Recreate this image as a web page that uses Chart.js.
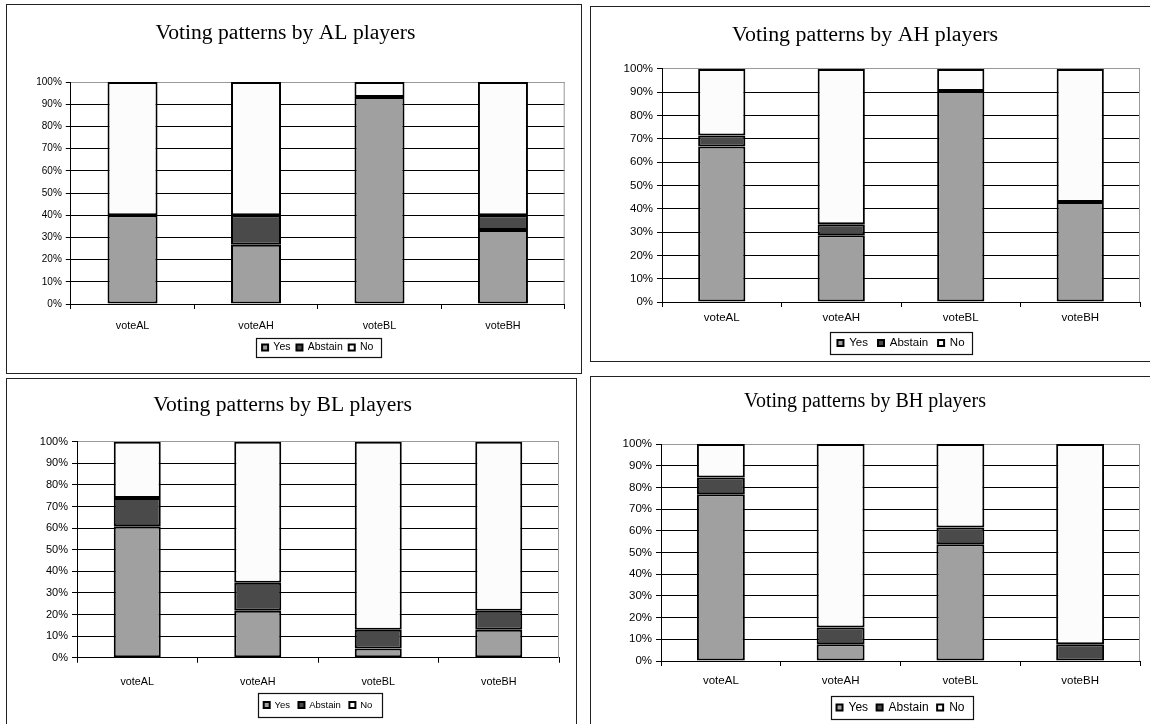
<!DOCTYPE html>
<html>
<head>
<meta charset="utf-8">
<script src="https://cdn.jsdelivr.net/npm/chart.js@4.4.1/dist/chart.umd.min.js"></script>
<style>
  html, body { margin: 0; padding: 0; background: #fff; }
  body { width: 1150px; height: 724px; position: relative; overflow: hidden; }
  canvas, .frame { position: absolute; }
  .frame { border: 1.5px solid #222; box-sizing: border-box; pointer-events: none; }
</style>
</head>
<body>
<canvas id="c1"></canvas><div class="frame" id="f1"></div>
<canvas id="c2"></canvas><div class="frame" id="f2"></div>
<canvas id="c3"></canvas><div class="frame" id="f3"></div>
<canvas id="c4"></canvas><div class="frame" id="f4"></div>
<script>
const categories = ['voteAL', 'voteAH', 'voteBL', 'voteBH']
const seriesNames = ['Yes', 'Abstain', 'No']

// shares in % for each group of players
const alYes = [40.0, 26.7, 93.3, 33.3]
const alAbstain = [0, 13.3, 0, 6.7]
const alNo = [60.0, 60.0, 6.7, 60.0]

const ahYes = [66.7, 28.6, 90.5, 42.9]
const ahAbstain = [4.8, 4.8, 0, 0]
const ahNo = [28.5, 66.6, 9.5, 57.1]

const blYes = [60.9, 21.7, 4.3, 13.0]
const blAbstain = [13.0, 13.0, 8.7, 8.7]
const blNo = [26.1, 65.3, 87.0, 78.3]

const bhYes = [76.9, 7.7, 53.8, 0]
const bhAbstain = [7.7, 7.7, 7.7, 7.7]
const bhNo = [15.4, 84.6, 38.5, 92.3]

const colors = ['#a0a0a0', '#4a4a4a', '#fcfcfc']
const SANS = "'Liberation Sans', Arial, sans-serif"
const SERIF = "'Liberation Serif', 'Times New Roman', serif"

// draws a box round the legend items and the grey right edge of the plot
const framePlugin = {
    id: 'legendFrame',
    afterDraw(chart, args, opts) {
        const ctx = chart.ctx
        const a = chart.chartArea
        ctx.save()
        ctx.strokeStyle = '#999'
        ctx.lineWidth = 1
        ctx.beginPath()
        ctx.moveTo(a.right - 0.5, a.top)
        ctx.lineTo(a.right - 0.5, a.bottom)
        ctx.stroke()

        const boxes = chart.legend.legendHitBoxes
        if (boxes && boxes.length) {
            const l = Math.min(...boxes.map(b => b.left)) - opts.l
            const r = Math.max(...boxes.map(b => b.left + b.width)) + opts.r
            const t = boxes[0].top - opts.v
            const h = boxes[0].height + opts.v * 2
            ctx.strokeStyle = '#111'
            ctx.lineWidth = 1.2
            ctx.strokeRect(Math.round(l) + 0.5, Math.round(t) + 0.5, Math.round(r - l), Math.round(h))
        }
        ctx.restore()
    }
}

const makeChart = (id, frameId, rect, title, yes, abstain, no, c) => {
    const cv = document.getElementById(id)
    const fr = document.getElementById(frameId)
    for (const el of [cv, fr]) {
        el.style.left = rect[0] + 'px'
        el.style.top = rect[1] + 'px'
        el.style.width = rect[2] + 'px'
        el.style.height = rect[3] + 'px'
    }
    cv.width = rect[2]
    cv.height = rect[3]

    const values = [yes, abstain, no]
    return new Chart(cv.getContext('2d'), {
        type: 'bar',
        data: {
            labels: categories,
            datasets: seriesNames.map((name, i) => ({
                label: name,
                data: values[i],
                backgroundColor: colors[i],
                borderColor: '#000',
                borderWidth: 2,
                borderSkipped: false,
                barPercentage: c.bar,
                categoryPercentage: 1
            }))
        },
        options: {
            responsive: false,
            animation: false,
            devicePixelRatio: 1,
            layout: { padding: { left: 0, right: c.padRight, top: 0, bottom: c.pb } },
            scales: {
                x: {
                    stacked: true,
                    grid: { display: true, drawOnChartArea: false, drawTicks: true, tickLength: 5, color: '#000', offset: true },
                    border: { display: true, color: '#000', width: 1 },
                    ticks: { color: '#000', padding: c.xPad, maxRotation: 0, font: { family: SANS, size: c.xSize } },
                    afterFit: s => { s.height = c.xh }
                },
                y: {
                    stacked: true,
                    min: 0,
                    max: 100,
                    grid: {
                        color: ctx => ctx.tick && ctx.tick.value === 100 ? '#999' : '#000',
                        tickColor: '#000',
                        tickLength: 5,
                        lineWidth: 1
                    },
                    border: { display: true, color: '#000', width: 1 },
                    ticks: {
                        stepSize: 10,
                        color: '#000',
                        padding: 4,
                        font: { family: SANS, size: c.ySize },
                        callback: v => v + '%'
                    },
                    afterFit: s => { s.width = c.yWidth }
                }
            },
            plugins: {
                title: {
                    display: true,
                    text: title,
                    color: '#000',
                    font: { family: SERIF, size: c.titleSize, weight: 'normal', lineHeight: 1.2 },
                    padding: { top: c.tpTop, bottom: c.tpBottom }
                },
                legend: {
                    position: 'bottom',
                    fullSize: false,
                    labels: {
                        color: '#000',
                        boxWidth: 6,
                        boxHeight: 6,
                        padding: c.legendPad,
                        font: { family: SANS, size: c.legendSize }
                    }
                },
                tooltip: { enabled: false },
                legendFrame: c.frame
            }
        },
        plugins: [framePlugin]
    })
}

makeChart('c1', 'f1', [6, 4, 576, 370], 'Voting patterns by AL players', alYes, alAbstain, alNo, {
    bar: 0.405, yWidth: 64.8, padRight: 17.3, titleSize: 21.6, tpTop: 16, tpBottom: 36.1,
    ySize: 10, xSize: 10.8, xPad: 10.5, xh: 32.25, legendSize: 10.5, legendPad: 6, pb: 11.25,
    frame: { l: 6, r: 8, v: 4.25 }
})

makeChart('c2', 'f2', [590, 6, 566, 356], 'Voting patterns by AH players', ahYes, ahAbstain, ahNo, {
    bar: 0.395, yWidth: 72, padRight: 16, titleSize: 21.9, tpTop: 15.9, tpBottom: 20.8,
    ySize: 11.5, xSize: 11.5, xPad: 4.1, xh: 25.25, legendSize: 11.5, legendPad: 10, pb: 3.25,
    frame: { l: 7, r: 8, v: 5.25 }
})

makeChart('c3', 'f3', [6, 378, 571, 352], 'Voting patterns by BL players', blYes, blAbstain, blNo, {
    bar: 0.39, yWidth: 71, padRight: 18, titleSize: 21.6, tpTop: 14, tpBottom: 23.8,
    ySize: 11, xSize: 10.8, xPad: 12.7, xh: 34, legendSize: 9.5, legendPad: 8.5, pb: 10.25,
    frame: { l: 6, r: 9, v: 7.25 }
})

makeChart('c4', 'f4', [590, 376, 566, 354], 'Voting patterns by BH players', bhYes, bhAbstain, bhNo, {
    bar: 0.4, yWidth: 71, padRight: 16, titleSize: 20, tpTop: 14, tpBottom: 30,
    ySize: 11.5, xSize: 11.5, xPad: 8.1, xh: 32, legendSize: 12, legendPad: 8.5, pb: 6.5,
    frame: { l: 6, r: 8, v: 5.5 }
})
</script>
</body>
</html>
